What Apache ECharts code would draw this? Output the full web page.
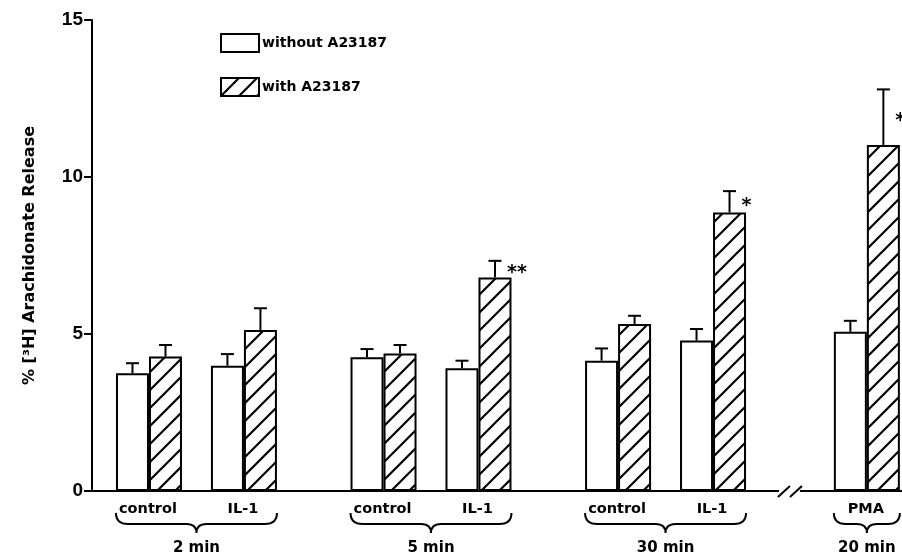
<!DOCTYPE html>
<html>
<head>
<meta charset="utf-8">
<script src="https://cdn.jsdelivr.net/npm/echarts@6/dist/echarts.min.js"></script>
<style>
  html, body { margin: 0; padding: 0; background: #fff; }
  #chart { width: 902px; height: 559px; }
</style>
</head>
<body>
<div id="chart"></div>
<script>
// Arachidonate release (% of incorporated [3H]), mean and SE
const conditions = ['control', 'IL-1', 'control', 'IL-1', 'control', 'IL-1', 'PMA'];
const timeGroups = ['2 min', '5 min', '30 min', '20 min'];
const groupOfCondition = [0, 0, 1, 1, 2, 2, 3];
const withoutA23187 = [3.75, 3.99, 4.26, 3.91, 4.15, 4.79, 5.07];
const withoutSE = [0.32, 0.37, 0.26, 0.24, 0.39, 0.37, 0.35];
const withA23187 = [4.28, 5.13, 4.38, 6.80, 5.32, 8.87, 11.02];
const withSE = [0.37, 0.69, 0.27, 0.53, 0.26, 0.68, 1.77];
const significance = ['', '', '', '**', '', '*', '*'];
const yTickValues = [0, 5, 10, 15];
const seriesNames = ['without A23187', 'with A23187'];

// Layout along the x axis (in axis units): one unit between paired conditions,
// wider spacing between time groups, extra room for the axis break before PMA.
const FIRST = 0.6, GROUP_STEP = 2.47, BREAK_EXTRA = 0.15, BREAK_AT = 7.35;
const BAR_W = 33;

const xPos = conditions.map((c, i) => {
  const g = groupOfCondition[i];
  const member = groupOfCondition.slice(0, i).filter(v => v === g).length;
  return FIRST + g * GROUP_STEP + member + (g === timeGroups.length - 1 ? BREAK_EXTRA : 0);
});

// Diagonal hatch fill
function hatchPattern() {
  const s = 18;
  const c = document.createElement('canvas');
  c.width = s; c.height = s;
  const ctx = c.getContext('2d');
  ctx.fillStyle = '#fff';
  ctx.fillRect(0, 0, s, s);
  ctx.strokeStyle = '#000';
  ctx.lineWidth = 2.2;
  ctx.beginPath();
  ctx.moveTo(-2, s + 2); ctx.lineTo(s + 2, -2);
  ctx.moveTo(-2, 2); ctx.lineTo(2, -2);
  ctx.moveTo(s - 2, s + 2); ctx.lineTo(s + 2, s - 2);
  ctx.stroke();
  return { image: c, repeat: 'repeat' };
}
const hatch = hatchPattern();

const FONT = '"DejaVu Sans", "Liberation Sans", sans-serif';

function errorBarSeries(values, errors, side, marks) {
  return {
    type: 'custom',
    name: seriesNames[side > 0 ? 1 : 0] + ' SE',
    clip: false,
    silent: true,
    z: 3,
    data: values.map((v, i) => [xPos[i], v, errors[i]]),
    renderItem: function (params, api) {
      const x = api.value(0), m = api.value(1), e = api.value(2);
      const base = api.coord([x, m]);
      const top = api.coord([x, m + e]);
      const cx = base[0] + side * BAR_W / 2;
      const children = [
        { type: 'line', shape: { x1: cx, y1: base[1], x2: cx, y2: top[1] },
          style: { stroke: '#000', lineWidth: 2 } },
        { type: 'line', shape: { x1: cx - 6.5, y1: top[1], x2: cx + 6.5, y2: top[1] },
          style: { stroke: '#000', lineWidth: 2 } }
      ];
      const mark = marks ? marks[params.dataIndex] : '';
      if (mark) {
        children.push({
          type: 'text',
          style: {
            text: mark, x: cx + 12, y: (base[1] + top[1]) / 2 + 4,
            font: 'bold 19px ' + FONT, fill: '#000',
            align: 'left', verticalAlign: 'middle'
          }
        });
      }
      return { type: 'group', children: children };
    }
  };
}

const option = {
  animation: false,
  backgroundColor: '#fff',
  grid: { left: 92, right: 0, top: 20, bottom: 68, containLabel: false },
  legend: {
    orient: 'vertical',
    left: 220, top: 33,
    padding: 0,
    itemWidth: 38, itemHeight: 18, itemGap: 24,
    icon: 'rect',
    textStyle: { fontFamily: FONT, fontWeight: 'bold', fontSize: 14, color: '#000', padding: [0, 0, 0, -2] },
    data: seriesNames
  },
  xAxis: {
    type: 'value',
    min: 0, max: 8.53,
    axisLine: { show: true, onZero: false, lineStyle: { color: '#000', width: 2 } },
    axisTick: { show: false },
    axisLabel: { show: false },
    splitLine: { show: false }
  },
  yAxis: {
    type: 'value',
    min: yTickValues[0], max: yTickValues[yTickValues.length - 1], interval: 5,
    name: '% [³H] Arachidonate Release',
    nameLocation: 'middle',
    nameGap: 54,
    nameTextStyle: { fontFamily: FONT, fontWeight: 'bold', fontSize: 16, color: '#000' },
    axisLine: { show: true, lineStyle: { color: '#000', width: 2 } },
    axisTick: { show: true, inside: false, length: 8, lineStyle: { color: '#000', width: 2 } },
    axisLabel: { margin: 9, fontFamily: '"Liberation Sans", Arial, sans-serif', fontWeight: 'bold', fontSize: 19, color: '#000' },
    splitLine: { show: false }
  },
  series: [
    {
      name: seriesNames[0],
      type: 'bar',
      barWidth: BAR_W,
      barGap: '0%',
      itemStyle: { color: '#fff', borderColor: '#000', borderWidth: 2 },
      data: withoutA23187.map((v, i) => [xPos[i], v])
    },
    {
      name: seriesNames[1],
      type: 'bar',
      barWidth: BAR_W,
      barGap: '0%',
      itemStyle: { color: hatch, borderColor: '#000', borderWidth: 2 },
      data: withA23187.map((v, i) => [xPos[i], v])
    },
    errorBarSeries(withoutA23187, withoutSE, -1, null),
    errorBarSeries(withA23187, withSE, 1, significance),
    // condition labels under each pair of bars
    {
      type: 'custom',
      clip: false,
      silent: true,
      data: conditions.map((c, i) => [xPos[i], 0]),
      renderItem: function (params, api) {
        const p = api.coord([api.value(0), 0]);
        return {
          type: 'text',
          style: {
            text: conditions[params.dataIndex], x: p[0] - 1, y: p[1] + 18,
            font: 'bold 14.5px ' + FONT, fill: '#000',
            align: 'center', verticalAlign: 'middle'
          }
        };
      }
    },
    // braces and time labels for each group
    {
      type: 'custom',
      clip: false,
      silent: true,
      data: timeGroups.map((g, gi) => {
        const xs = xPos.filter((x, i) => groupOfCondition[i] === gi);
        return [Math.min.apply(null, xs), Math.max.apply(null, xs)];
      }),
      renderItem: function (params, api) {
        const a = api.coord([api.value(0), 0]);
        const b = api.coord([api.value(1), 0]);
        const x1 = a[0] - 33, x2 = b[0] + 33, xm = (a[0] + b[0]) / 2;
        const y0 = a[1] + 22, ym = a[1] + 33, yt = a[1] + 42;
        const d = 'M' + x1 + ' ' + y0 +
          ' Q' + x1 + ' ' + ym + ' ' + (x1 + 12) + ' ' + ym +
          ' L' + (xm - 10) + ' ' + ym +
          ' Q' + xm + ' ' + ym + ' ' + xm + ' ' + yt +
          ' Q' + xm + ' ' + ym + ' ' + (xm + 10) + ' ' + ym +
          ' L' + (x2 - 12) + ' ' + ym +
          ' Q' + x2 + ' ' + ym + ' ' + x2 + ' ' + y0;
        return {
          type: 'group',
          children: [
            { type: 'path', shape: { pathData: d },
              style: { fill: 'none', stroke: '#000', lineWidth: 2 } },
            { type: 'text',
              style: {
                text: timeGroups[params.dataIndex], x: xm, y: a[1] + 57,
                font: 'bold 15px ' + FONT, fill: '#000',
                align: 'center', verticalAlign: 'middle'
              } }
          ]
        };
      }
    },
    // break in the x axis before the PMA group
    {
      type: 'custom',
      clip: false,
      silent: true,
      z: 4,
      data: [[BREAK_AT, 0]],
      renderItem: function (params, api) {
        const p = api.coord([api.value(0), 0]);
        const x = p[0], y = p[1];
        return {
          type: 'group',
          children: [
            { type: 'rect', shape: { x: x - 11, y: y - 3, width: 21, height: 6 },
              style: { fill: '#fff' } },
            { type: 'line', shape: { x1: x - 12, y1: y + 6, x2: x, y2: y - 5 },
              style: { stroke: '#000', lineWidth: 2 } },
            { type: 'line', shape: { x1: x, y1: y + 6, x2: x + 12, y2: y - 5 },
              style: { stroke: '#000', lineWidth: 2 } }
          ]
        };
      }
    }
  ]
};

const chart = echarts.init(document.getElementById('chart'), null, { renderer: 'canvas' });
chart.setOption(option);
</script>
</body>
</html>
